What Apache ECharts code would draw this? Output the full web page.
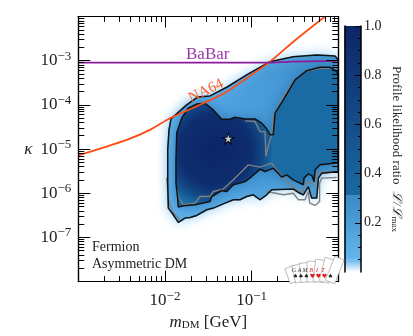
<!DOCTYPE html>
<html><head><meta charset="utf-8">
<style>html,body{margin:0;padding:0;background:#fff}#c{width:413px;height:336px}</style>
<script src="https://cdn.jsdelivr.net/npm/echarts@6/dist/echarts.min.js"></script>
</head><body><div id="c"></div>
<script>
// All contour points are [log10(m_DM / GeV), log10(kappa)]
const outerContour = [[-1.968,-5.018],[-1.953,-4.566],[-1.93,-4.317],[-1.749,-4.001],[-1.619,-3.82],[-1.48,-3.798],[-1.287,-3.601],[-1.057,-3.323],[-0.788,-3.023],[-0.519,-2.91],[-0.249,-2.871],[-0.038,-2.894],[0,-2.984],[0,-5.509],[-0.191,-5.545],[-0.23,-5.658],[-0.249,-6.11],[-0.307,-6.11],[-0.346,-5.848],[-0.403,-6.035],[-0.461,-5.983],[-0.519,-5.906],[-0.768,-5.922],[-0.826,-6.035],[-0.903,-6.148],[-0.98,-6.035],[-1.057,-6.074],[-1.134,-6.148],[-1.211,-6.148],[-1.307,-6.223],[-1.442,-6.336],[-1.518,-6.374],[-1.634,-6.503],[-1.711,-6.548],[-1.769,-6.562],[-1.846,-6.661],[-1.904,-6.487],[-1.961,-6.336],[-1.968,-5.764]];
const innerContour = [[-1.873,-5.244],[-1.864,-4.634],[-1.807,-4.302],[-1.731,-4.076],[-1.63,-3.979],[-1.538,-3.963],[-1.442,-4.114],[-1.345,-4.324],[-1.25,-4.324],[-1.192,-4.279],[-1.076,-4.318],[-0.961,-4.318],[-0.884,-4.415],[-0.834,-4.521],[-0.788,-4.679],[-0.75,-4.679],[-0.73,-4.189],[-0.634,-3.888],[-0.499,-3.436],[-0.364,-3.226],[-0.211,-3.149],[-0.095,-3.149],[-0.018,-3.249],[0,-3.323],[0,-5.312],[-0.211,-5.357],[-0.268,-5.47],[-0.28,-5.741],[-0.302,-5.606],[-0.346,-5.56],[-0.396,-5.658],[-0.403,-5.809],[-0.519,-5.696],[-0.595,-5.583],[-0.653,-5.635],[-0.75,-5.432],[-0.846,-5.509],[-0.903,-5.454],[-0.999,-5.622],[-1.076,-5.735],[-1.134,-5.771],[-1.211,-5.809],[-1.287,-5.961],[-1.345,-5.938],[-1.461,-6.074],[-1.48,-6.187],[-1.653,-6.261],[-1.788,-6.284],[-1.846,-6.313],[-1.853,-6.11],[-1.873,-5.764]];
const grayLower = [[-1.861,-5.922],[-1.846,-6.074],[-1.788,-6.261],[-1.653,-6.223],[-1.596,-6.074],[-1.48,-6.074],[-1.442,-5.961],[-1.327,-5.906],[-1.211,-5.696],[-1.134,-5.545],[-1.038,-5.357],[-0.903,-5.409],[-0.768,-5.319],[-0.73,-5.432],[-0.634,-5.658],[-0.461,-5.961],[-0.403,-5.961],[-0.384,-5.771],[-0.346,-5.735],[-0.28,-5.809],[-0.249,-5.538],[-0.018,-5.509]];
const grayUpper = [[-1.076,-4.363],[-0.961,-4.378],[-0.903,-4.605],[-0.846,-4.605],[-0.834,-5.169],[-0.81,-4.944],[-0.768,-4.679],[-0.75,-4.266],[-0.634,-3.814],[-0.519,-3.475],[-0.384,-3.249],[-0.211,-3.172],[-0.062,-3.165]];
const grayOuterLeft = [[-1.98,-5.651],[-1.961,-6.148],[-1.904,-6.441],[-1.826,-6.6]];
const grayOuterRight = [[-0.826,-5.961],[-0.634,-6.035],[-0.519,-6.0],[-0.461,-6.148],[-0.384,-6.148],[-0.346,-5.961],[-0.33,-6.223],[-0.268,-6.277],[-0.216,-6.187],[-0.216,-5.771],[-0.191,-5.658],[-0.018,-5.644]];
const na64Limit = [[-3,-5.142],[-2.441,-4.792],[-2.173,-4.566],[-1.942,-4.302],[-1.557,-3.963],[-1.287,-3.701],[-1.057,-3.398],[-0.788,-3.023],[-0.519,-2.571],[-0.153,-2.0]];
const babarLimit = [[-3,-3.045],[-0.788,-3.045],[-0.519,-3.023],[0,-3.005]];
const bestFit = [-1.27,-4.763];
const xMajor = [0.01,0.1];
const xMajorAll = [0.001,0.01,0.1,1];
const yMajor = [1e-8,1e-7,1e-6,1e-5,1e-4,1e-3,1e-2];
const yLabels = [1e-7,1e-6,1e-5,1e-4,1e-3];
const xMinor = [2e-3,3e-3,4e-3,5e-3,6e-3,7e-3,8e-3,9e-3,2e-2,3e-2,4e-2,5e-2,6e-2,7e-2,8e-2,9e-2,.2,.3,.4,.5,.6,.7,.8,.9];
const yMinor = [2e-8,3e-8,4e-8,5e-8,6e-8,7e-8,8e-8,9e-8,2e-7,3e-7,4e-7,5e-7,6e-7,7e-7,8e-7,9e-7,2e-6,3e-6,4e-6,5e-6,6e-6,7e-6,8e-6,9e-6,2e-5,3e-5,4e-5,5e-5,6e-5,7e-5,8e-5,9e-5,2e-4,3e-4,4e-4,5e-4,6e-4,7e-4,8e-4,9e-4,2e-3,3e-3,4e-3,5e-3,6e-3,7e-3,8e-3,9e-3];
const cbMajor = [0.2,0.4,0.6,0.8,1.0];
const cbLabels = [0.2,0.4,0.6,0.8,1.0];
const cbMinor = [0.05,0.1,0.15,0.25,0.3,0.35,0.45,0.5,0.55,0.65,0.7,0.75,0.85,0.9,0.95];
const cbBands = [[0,0.05,'#ffffff','#65b6ec'],[0.05,0.31,'#65b6ec','#3a8bc6'],[0.31,1,'#1a6aa3','#0d2566']];
const logoLetters = ['G','A','M','B','I','T'];
const SERIF = '"Liberation Serif", serif';
const INK = '#222';
const pow = p => [Math.pow(10,p[0]), Math.pow(10,p[1])];
const chart = echarts.init(document.getElementById('c'), null, {renderer:'canvas'});

function logLabel(v){ const e = Math.round(Math.log10(v)); return '{b|10}{s|\u2212'+Math.abs(e)+'}'; }
const rich = {b:{fontFamily:SERIF,fontSize:17,color:INK},s:{fontFamily:SERIF,fontSize:13,color:INK,verticalAlign:'top',padding:[0,0,9,0]}};
const lineS = {show:true,onZero:false,lineStyle:{color:'#000',width:1.2}};

function xAx(pos, ticks, len, labels, extra){
  return Object.assign({type:'log',logBase:10,min:1e-3,max:1,gridIndex:0,position:pos,z:10,
    axisLine:lineS,splitLine:{show:false},minorTick:{show:false},
    axisTick:{show:true,inside:true,length:len,customValues:ticks,lineStyle:{color:'#000',width:1}},
    axisLabel:labels?{show:true,customValues:labels,formatter:logLabel,rich,margin:8}:{show:false}},extra||{});
}
function yAx(pos, ticks, len, labels, extra){
  return Object.assign({type:'log',logBase:10,min:1e-8,max:1e-2,gridIndex:0,position:pos,z:10,
    axisLine:lineS,splitLine:{show:false},minorTick:{show:false},
    axisTick:{show:true,inside:true,length:len,customValues:ticks,lineStyle:{color:'#000',width:1}},
    axisLabel:labels?{show:true,customValues:labels,formatter:logLabel,rich,margin:7}:{show:false}},extra||{});
}
function polySeries(name, pts, z, styleFn){
  return {type:'custom',name,coordinateSystem:'cartesian2d',xAxisIndex:0,yAxisIndex:0,clip:true,z,silent:true,
    data:[0],renderItem(params,api){
      const points = pts.map(p=>api.coord(pow(p)));
      return {type:'polygon',shape:{points},style:styleFn(api)};
    }};
}
function lineSeries(name, pts, color, width, z, smooth){
  return {type:'line',name,xAxisIndex:0,yAxisIndex:0,data:pts.map(pow),showSymbol:false,symbol:'none',z,silent:true,clip:true,
    smooth:smooth||0,lineStyle:{color,width}};
}
const closed = a => a.concat([a[0]]);
const STAR = 'path://M50 0 L61 35 L98 35 L68 57 L79 91 L50 70 L21 91 L32 57 L2 35 L39 35 Z';

// GAMBIT logo: a small fan of cards
const logo = [];
const cardX = [295,300.5,306,312,318,324,330];
const cardRot = [0.35,0.22,0.1,0,-0.12,-0.25,-0.38];
const suit = ['\u2660','\u2660','\u2660','\u2665','\u2665','\u2665','\u2660'];
const fill = ['#222','#222','#222','#e01818','#e01818','#e01818','#222'];
cardX.forEach((x,i)=>{
  logo.push({type:'group',x,y:282,rotation:cardRot[i],z:20,children:[
    {type:'rect',shape:{x:-5,y:-16-(i*1.6),width:10,height:16+(i*1.6)},z:20,style:{fill:'#fff',stroke:'#999',lineWidth:0.6}}
  ]});
});
cardX.forEach((x,i)=>{
  if(i<6) logo.push({type:'text',x:x-1,y:270,z:21,style:{text:logoLetters[i],font:'italic 6px '+SERIF,fill:i>2?'#e01818':'#333',align:'center',verticalAlign:'middle'}});
  logo.push({type:'text',x:x+0.5,y:276,z:21,style:{text:suit[i],font:'6px "DejaVu Sans"',fill:fill[i],align:'center',verticalAlign:'middle'}});
});

chart.setOption({
  animation:false,
  backgroundColor:'#fff',
  grid:[{left:78.3,top:16.5,width:260,height:265.5,containLabel:false},{left:344.5,top:26,width:16.5,height:246}],
  xAxis:[
    xAx('bottom',xMajorAll,11,xMajor,{name:'{m|m}{d|DM}{g| [GeV]}',nameLocation:'middle',nameGap:26,
       nameTextStyle:{rich:{m:{fontFamily:SERIF,fontStyle:'italic',fontSize:17,color:INK},d:{fontFamily:SERIF,fontSize:11,color:INK,verticalAlign:'bottom',padding:[6,0,0,0]},g:{fontFamily:SERIF,fontSize:17,color:INK}}}}),
    xAx('bottom',xMinor,5.5,null),
    xAx('top',xMajorAll,11,null),
    xAx('top',xMinor,5.5,null),
    {type:'value',gridIndex:1,min:0,max:1,show:false}
  ],
  yAxis:[
    yAx('left',yMajor,12,yLabels,{name:'\u03BA',nameLocation:'middle',nameGap:46,nameRotate:0,nameTextStyle:{fontFamily:SERIF,fontStyle:'italic',fontSize:17,color:INK}}),
    yAx('left',yMinor,6,null),
    yAx('right',yMajor,12,null),
    yAx('right',yMinor,6,null),
    {type:'value',gridIndex:1,min:0,max:1,position:'right',z:10,
      axisLine:{show:true,onZero:false,lineStyle:{color:'#000',width:1.5}},splitLine:{show:false},
      axisTick:{show:true,inside:true,length:6,customValues:cbMajor,lineStyle:{color:'#000',width:1}},
      axisLabel:{show:true,customValues:cbLabels,margin:3,formatter:v=>v.toFixed(1),fontFamily:SERIF,fontSize:14,color:INK},
      name:'{a|Profile likelihood ratio  }{i|\u2112/\u2112}{d|max}',nameLocation:'middle',nameRotate:-90,nameGap:29,
      nameTextStyle:{rich:{a:{fontFamily:SERIF,fontSize:13,color:INK},i:{fontFamily:SERIF,fontStyle:'italic',fontSize:13,color:INK},d:{fontFamily:SERIF,fontSize:9,color:INK,verticalAlign:'bottom',padding:[4,0,0,0]}}}},
    {type:'value',gridIndex:1,min:0,max:1,position:'right',z:10,
      axisLine:{show:false,onZero:false},splitLine:{show:false},axisLabel:{show:false},
      axisTick:{show:true,inside:true,length:3,customValues:cbMinor,lineStyle:{color:'#000',width:1}}},
    {type:'value',gridIndex:1,min:0,max:1,position:'left',z:10,
      axisLine:{show:true,onZero:false,lineStyle:{color:'#000',width:1.5}},axisTick:{show:false},axisLabel:{show:false},splitLine:{show:false}}
  ],
  series:[
    polySeries('outer fill',outerContour,1,()=>({
      fill:new echarts.graphic.LinearGradient(0,0,1,0,[{offset:0,color:'#5aaeea'},{offset:0.5,color:'#4a9ddb'},{offset:1,color:'#3a8cc7'}]),
      stroke:'#6cbcf0',lineWidth:1.5,shadowBlur:12,shadowColor:'#9fd4f6'})),
    polySeries('inner fill',innerContour,2,(api)=>{
      const c = api.coord(pow([-1.42,-5.02]));
      return {fill:new echarts.graphic.RadialGradient(c[0],c[1],58,[
        {offset:0,color:'#0c2567'},{offset:0.62,color:'#0e2e70'},{offset:0.82,color:'#124784'},{offset:1,color:'#1a6aa3'}],true),
        stroke:'#1a6aa3',lineWidth:0,shadowBlur:14,shadowColor:'#2a78b5'};
    }),
    lineSeries('gray lower',grayLower,'#808080',1.4,3),
    lineSeries('gray upper',grayUpper,'#808080',1.4,3),
    lineSeries('gray outer left',grayOuterLeft,'#808080',1.4,3),
    lineSeries('gray outer right',grayOuterRight,'#808080',1.4,3),
    lineSeries('outer contour',closed(outerContour),'#111',1.5,4),
    lineSeries('inner contour',closed(innerContour),'#111',1.5,4),
    lineSeries('NA64',na64Limit,'#ff4a12',1.7,5,0.3),
    lineSeries('BaBar',babarLimit,'#8b1a9c',1.7,5),
    {type:'scatter',name:'best fit outline',xAxisIndex:0,yAxisIndex:0,z:6,silent:true,data:[pow(bestFit)],symbolSize:14,symbol:STAR,
     itemStyle:{color:'#000'}},
    {type:'scatter',name:'best fit',xAxisIndex:0,yAxisIndex:0,z:7,silent:true,data:[pow(bestFit)],symbolSize:8,symbol:STAR,
     itemStyle:{color:'#fff'}},
    {type:'custom',name:'colour bar',coordinateSystem:'cartesian2d',xAxisIndex:4,yAxisIndex:4,z:1,silent:true,
     data:cbBands.map((b,i)=>i),renderItem(params,api){
       const b = cbBands[params.dataIndex];
       const p0 = api.coord([0,b[0]]), p1 = api.coord([1,b[1]]);
       return {type:'rect',shape:{x:p0[0],y:p1[1],width:p1[0]-p0[0],height:p0[1]-p1[1]},
         style:{fill:new echarts.graphic.LinearGradient(0,1,0,0,[{offset:0,color:b[2]},{offset:1,color:b[3]}])}};
     }}
  ],
  graphic:[
    {type:'text',left:92,top:240,z:20,style:{text:'Fermion',font:'14px '+SERIF,fill:INK}},
    {type:'text',left:92,top:257,z:20,style:{text:'Asymmetric DM',font:'14px '+SERIF,fill:INK}},
    {type:'text',left:186,top:46,z:20,style:{text:'BaBar',font:'17px '+SERIF,fill:'#9a3aa8'}},
    {type:'text',x:206,y:91,rotation:0.45,z:20,style:{text:'NA64',font:'15px '+SERIF,fill:'#ff5a28',align:'center',verticalAlign:'middle'}}
  ].concat(logo)
});
</script></body></html>
